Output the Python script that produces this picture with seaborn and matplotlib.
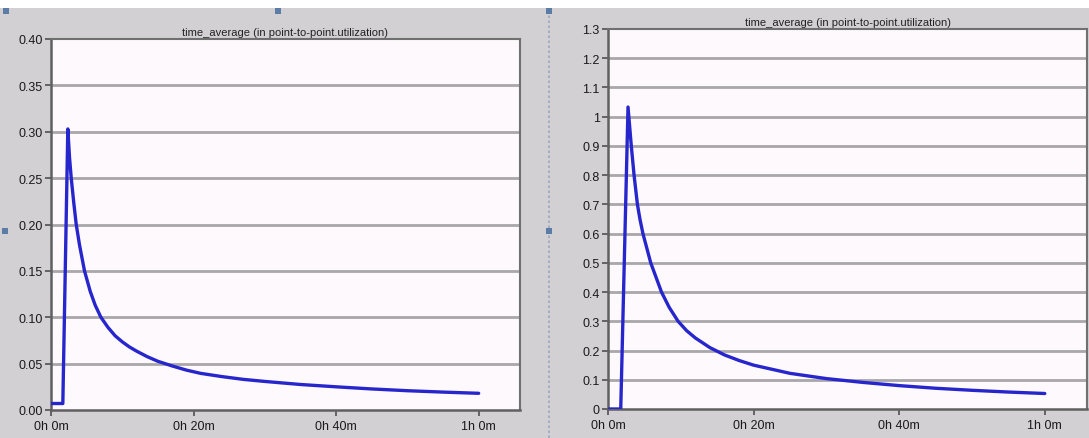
import matplotlib
matplotlib.use("Agg")
import matplotlib.pyplot as plt
from matplotlib.patches import Rectangle
from matplotlib.lines import Line2D
from matplotlib.ticker import FixedLocator, FixedFormatter
import pandas as pd
import seaborn as sns

# time in minutes, utilization values for the two links
left_minutes = [0, 1.66, 2.36, 2.6, 2.84, 3.2, 3.54, 4.0, 4.7, 5.5, 6.2, 7.0, 8.0, 9.0,
                10, 11, 12, 13.5, 15, 17, 19, 21, 24, 27, 30, 35, 40, 45, 50, 55, 60]
left_values = [0.007, 0.007, 0.303, 0.272, 0.25, 0.223, 0.20, 0.178, 0.15, 0.128,
               0.113, 0.100, 0.089, 0.080, 0.0735, 0.068, 0.0635, 0.0575, 0.0525,
               0.0475, 0.043, 0.0395, 0.036, 0.033, 0.0308, 0.0275, 0.025, 0.0227,
               0.0208, 0.0193, 0.018]

right_minutes = [0, 1.75, 2.75, 3.2, 3.58, 4.04, 4.4, 4.8, 5.87, 7.35, 8.4, 9.63, 10.8,
                 12, 14, 16, 18, 20, 25, 30, 35, 40, 45, 50, 55, 60]
right_values = [0, 0, 1.033, 0.9, 0.8, 0.7, 0.648, 0.6, 0.5, 0.4, 0.348, 0.3, 0.268,
                0.243, 0.21, 0.185, 0.166, 0.15, 0.122, 0.104, 0.091, 0.08, 0.071,
                0.064, 0.058, 0.053]

title_text = "time_average (in point-to-point.utilization)"
x_tick_minutes = [0, 20, 40, 60]
x_tick_labels = ["0h 0m", "0h 20m", "0h 40m", "1h 0m"]
left_y_ticks = [0.00, 0.05, 0.10, 0.15, 0.20, 0.25, 0.30, 0.35, 0.40]
left_y_labels = ["0.00", "0.05", "0.10", "0.15", "0.20", "0.25", "0.30", "0.35", "0.40"]
right_y_ticks = [0, 0.1, 0.2, 0.3, 0.4, 0.5, 0.6, 0.7, 0.8, 0.9, 1.0, 1.1, 1.2, 1.3]
right_y_labels = ["0", "0.1", "0.2", "0.3", "0.4", "0.5", "0.6", "0.7", "0.8", "0.9",
                  "1", "1.1", "1.2", "1.3"]

sns.set_theme(style="white")
plt.rcParams["font.family"] = ["Liberation Sans", "DejaVu Sans"]

W, H = 1089, 439
fig = plt.figure(figsize=(W / 100, H / 100), dpi=100)
fig.patch.set_facecolor("#d3d0d4")

# white strip along the top edge
fig.add_artist(Rectangle((0, 1 - 9 / H), 1, 9 / H, transform=fig.transFigure,
                         facecolor="white", edgecolor="none", zorder=0))


def px_box(x0, x1, ytop, ybot):
    return [x0 / W, 1 - ybot / H, (x1 - x0) / W, (ybot - ytop) / H]


ax_left = fig.add_axes(px_box(51, 520, 40, 411))
ax_right = fig.add_axes(px_box(608, 1087, 30, 410))

line_color = "#2626cc"
panels = [
    (ax_left, left_minutes, left_values, left_y_ticks, left_y_labels, 0.40),
    (ax_right, right_minutes, right_values, right_y_ticks, right_y_labels, 1.3),
]

for ax, mins, vals, yt, yl, ymax in panels:
    df = pd.DataFrame({"minutes": mins, "utilization": vals})
    ax.set_facecolor("#fdf9fd")
    for y in yt[1:-1]:
        ax.axhline(y, color="#a9a7aa", lw=2.0, zorder=1)
    sns.lineplot(data=df, x="minutes", y="utilization", ax=ax, color=line_color,
                 lw=2.4, zorder=3, estimator=None, sort=False)
    ax.lines[-1].set_solid_joinstyle("round")
    ax.set_xlim(0, 65.8)
    ax.set_ylim(0, ymax)
    ax.yaxis.set_major_locator(FixedLocator(yt))
    ax.yaxis.set_major_formatter(FixedFormatter(yl))
    ax.xaxis.set_major_locator(FixedLocator(x_tick_minutes))
    ax.xaxis.set_major_formatter(FixedFormatter(x_tick_labels))
    ax.set_xlabel("")
    ax.set_ylabel("")
    ax.tick_params(axis="both", which="major", direction="out", length=4, width=1.2,
                   color="#505050", labelsize=9, labelcolor="#1a1a1a", pad=2,
                   left=True, bottom=True)
    ax.tick_params(axis="x", pad=3)
    for side in ["left", "bottom"]:
        ax.spines[side].set_color("#606060")
        ax.spines[side].set_linewidth(1.8)
    for side in ["top", "right"]:
        ax.spines[side].set_color("#707070")
        ax.spines[side].set_linewidth(1.5)
    ax.set_title(title_text, fontsize=8, color="#222222", pad=3)

# dotted separator between the panels
fig.add_artist(Line2D([549 / W, 549 / W], [0, 1 - 9 / H], transform=fig.transFigure,
                      color="#9aa8c0", lw=1.2, ls=(0, (1.5, 1.5)), zorder=0))

# small selection handles
for hx, hy in [(6, 12), (278, 12), (549, 12), (5, 232), (549, 232)]:
    fig.add_artist(Rectangle(((hx - 3) / W, 1 - (hy + 3) / H), 6 / W, 6 / H,
                             transform=fig.transFigure, facecolor="#5a7ca6",
                             edgecolor="none", zorder=5))

fig.savefig("out.png", dpi=100, facecolor=fig.get_facecolor())
